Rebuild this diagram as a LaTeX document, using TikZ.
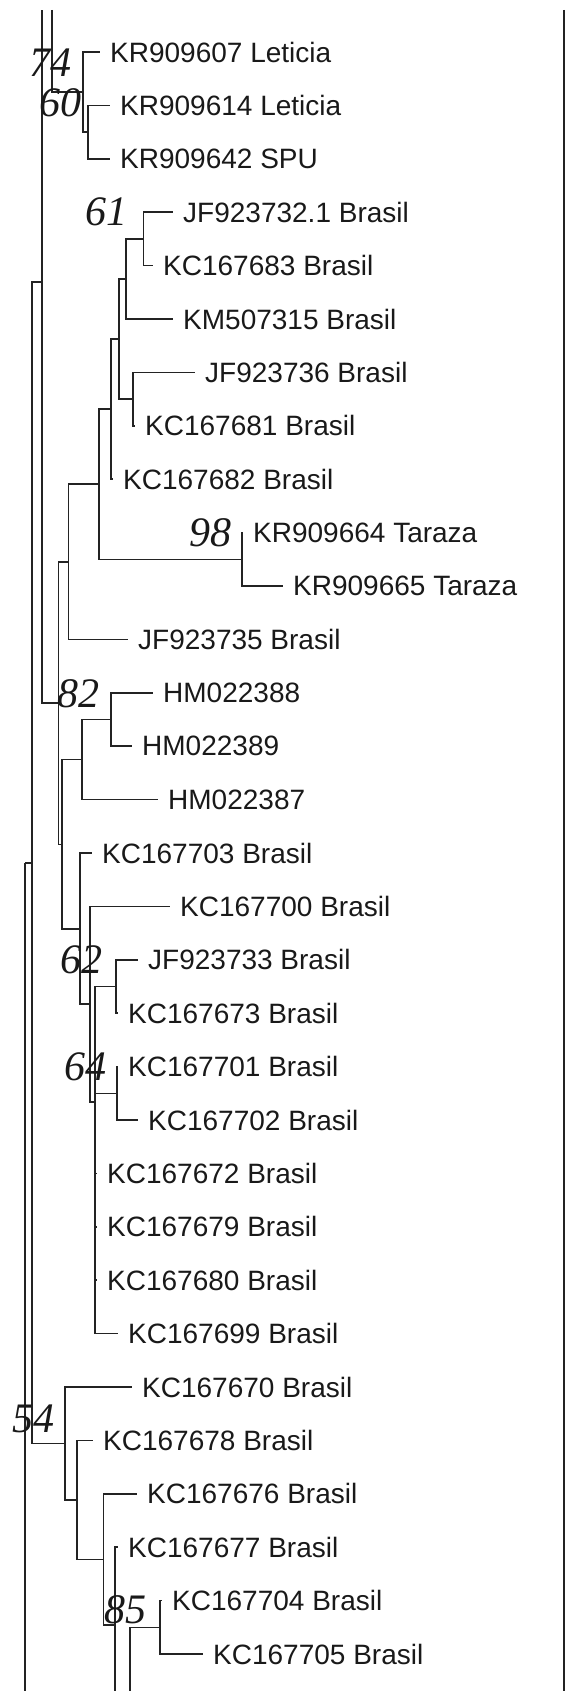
\documentclass[tikz,border=0pt]{standalone}
\usepackage{fontspec}
\setmainfont{Liberation Sans}
\newfontfamily\bootfont{Liberation Serif}
\usepackage{tikz}
\usetikzlibrary{positioning, calc}
\definecolor{cline}{RGB}{35,35,35}
\definecolor{ctext}{RGB}{25,25,25}

\begin{document}
\begin{tikzpicture}[
    x=1pt, y=-1pt,
    every node/.style={font=\fontsize{28}{30}\selectfont, text=ctext},
    branch/.style={draw=cline, line width=1.6pt},
    leaf/.style={anchor=west, inner xsep=10pt, inner ysep=0pt},
    boot/.style={anchor=base east, inner sep=0pt, font=\bootfont\itshape\fontsize{42}{42}\selectfont},
]
    \useasboundingbox (0,0) rectangle (572,1691);

    % Free ends cut by the frame
    \coordinate (topA) at (41.7, 10);
    \coordinate (topB) at (51.7, 10);
    \coordinate (bot25) at (25, 1691);
    \coordinate (botp) at (115, 1691);
    \coordinate (botq) at (130, 1691);
    \coordinate (rtop) at (564, 10);
    \coordinate (rbot) at (564, 1691);

    % Internal nodes
    \coordinate (n60) at (88, 132.1);
    \coordinate (n74) at (83, 92.05);
    \coordinate (n61) at (143.3, 238.9);
    \coordinate (nk) at (126, 279);
    \coordinate (nj) at (133, 399.1);
    \coordinate (ni) at (119, 339);
    \coordinate (n111) at (111, 409.1);
    \coordinate (n98) at (241.7, 559.3);
    \coordinate (n99) at (99, 484.2);
    \coordinate (nbr) at (68.3, 561.8);
    \coordinate (n82) at (110.7, 719.5);
    \coordinate (nhm) at (82, 759.6);
    \coordinate (n62) at (116, 986.5);
    \coordinate (n64) at (116.7, 1093.3);
    \coordinate (n95) at (95, 1101.7);
    \coordinate (n90) at (90, 1004);
    \coordinate (n80) at (80, 929);
    \coordinate (nlow) at (61.7, 844.3);
    \coordinate (nup) at (58.3, 703);
    \coordinate (nA) at (41.7, 282);
    \coordinate (n85) at (160, 1627.3);
    \coordinate (np) at (115, 1625);
    \coordinate (n103) at (103.3, 1559.4);
    \coordinate (n77) at (77, 1500);
    \coordinate (n54) at (65, 1443.5);
    \coordinate (n32) at (32, 862.7);
    \coordinate (n25) at (25, 862.7);

    % Leaves
    \node[leaf] (l1) at (100, 52) {KR909607 Leticia};
    \node[leaf] (l2) at (110, 105.4) {KR909614 Leticia};
    \node[leaf] (l3) at (110, 158.8) {KR909642 SPU};
    \node[leaf] (l4) at (173, 212.2) {JF923732.1 Brasil};
    \node[leaf] (l5) at (153, 265.6) {KC167683 Brasil};
    \node[leaf] (l6) at (173, 319) {KM507315 Brasil};
    \node[leaf] (l7) at (195, 372.4) {JF923736 Brasil};
    \node[leaf] (l8) at (135, 425.8) {KC167681 Brasil};
    \node[leaf] (l9) at (113, 479.2) {KC167682 Brasil};
    \node[leaf] (l10) at (243, 532.6) {KR909664 Taraza};
    \node[leaf] (l11) at (283, 586) {KR909665 Taraza};
    \node[leaf] (l12) at (128, 639.4) {JF923735 Brasil};
    \node[leaf] (l13) at (153, 692.8) {HM022388};
    \node[leaf] (l14) at (132, 746.2) {HM022389};
    \node[leaf] (l15) at (158, 799.6) {HM022387};
    \node[leaf] (l16) at (92, 853) {KC167703 Brasil};
    \node[leaf] (l17) at (170, 906.4) {KC167700 Brasil};
    \node[leaf] (l18) at (138, 959.8) {JF923733 Brasil};
    \node[leaf] (l19) at (118, 1013.2) {KC167673 Brasil};
    \node[leaf] (l20) at (118, 1066.6) {KC167701 Brasil};
    \node[leaf] (l21) at (138, 1120) {KC167702 Brasil};
    \node[leaf] (l22) at (97, 1173.4) {KC167672 Brasil};
    \node[leaf] (l23) at (97, 1226.8) {KC167679 Brasil};
    \node[leaf] (l24) at (97, 1280.2) {KC167680 Brasil};
    \node[leaf] (l25) at (118, 1333.6) {KC167699 Brasil};
    \node[leaf] (l26) at (132, 1387) {KC167670 Brasil};
    \node[leaf] (l27) at (93, 1440.4) {KC167678 Brasil};
    \node[leaf] (l28) at (137, 1493.8) {KC167676 Brasil};
    \node[leaf] (l29) at (118, 1547.2) {KC167677 Brasil};
    \node[leaf] (l30) at (162, 1600.6) {KC167704 Brasil};
    \node[leaf] (l31) at (203, 1654) {KC167705 Brasil};

    % Frame line on the right
    \draw[branch] (rtop) -- (rbot);

    % Backbone
    \draw[branch] (n25) -- (bot25);
    \draw[branch] (n25) -- (n32);
    \draw[branch] (n32) |- (nA);
    \draw[branch] (n32) |- (n54);
    \draw[branch] (nA) -- (topA);
    \draw[branch] (nA) |- (nup);
    \draw[branch] (topB) |- (n74);

    % Top clade
    \draw[branch] (n74) |- (l1.west);
    \draw[branch] (n74) |- (n60);
    \draw[branch] (n60) |- (l2.west);
    \draw[branch] (n60) |- (l3.west);

    % Brasil / Taraza clade
    \draw[branch] (nup) |- (nbr);
    \draw[branch] (nup) |- (nlow);
    \draw[branch] (nbr) |- (n99);
    \draw[branch] (nbr) |- (l12.west);
    \draw[branch] (n99) |- (n111);
    \draw[branch] (n99) |- (n98);
    \draw[branch] (n111) |- (ni);
    \draw[branch] (n111) |- (l9.west);
    \draw[branch] (ni) |- (nk);
    \draw[branch] (ni) |- (nj);
    \draw[branch] (nk) |- (n61);
    \draw[branch] (nk) |- (l6.west);
    \draw[branch] (n61) |- (l4.west);
    \draw[branch] (n61) |- (l5.west);
    \draw[branch] (nj) |- (l7.west);
    \draw[branch] (nj) |- (l8.west);
    \draw[branch] (n98) |- (l10.west);
    \draw[branch] (n98) |- (l11.west);

    % HM clade and KC1677xx group
    \draw[branch] (nlow) |- (nhm);
    \draw[branch] (nlow) |- (n80);
    \draw[branch] (nhm) |- (n82);
    \draw[branch] (nhm) |- (l15.west);
    \draw[branch] (n82) |- (l13.west);
    \draw[branch] (n82) |- (l14.west);
    \draw[branch] (n80) |- (l16.west);
    \draw[branch] (n80) |- (n90);
    \draw[branch] (n90) |- (l17.west);
    \draw[branch] (n90) |- (n95);
    \draw[branch] (n95) |- (n62);
    \draw[branch] (n95) |- (n64);
    \draw[branch] (n95) |- (l22.west);
    \draw[branch] (n95) |- (l23.west);
    \draw[branch] (n95) |- (l24.west);
    \draw[branch] (n95) |- (l25.west);
    \draw[branch] (n62) |- (l18.west);
    \draw[branch] (n62) |- (l19.west);
    \draw[branch] (n64) |- (l20.west);
    \draw[branch] (n64) |- (l21.west);

    % Bottom clade
    \draw[branch] (n54) |- (l26.west);
    \draw[branch] (n54) |- (n77);
    \draw[branch] (n77) |- (l27.west);
    \draw[branch] (n77) |- (n103);
    \draw[branch] (n103) |- (l28.west);
    \draw[branch] (n103) |- (np);
    \draw[branch] (np) |- (l29.west);
    \draw[branch] (np) -- (botp);
    \draw[branch] (botq) |- (n85);
    \draw[branch] (n85) |- (l30.west);
    \draw[branch] (n85) |- (l31.west);

    % Bootstrap values
    \node[boot] (b74) at (72, 77) {74};
    \node[boot] (b60) at (82, 117) {60};
    \node[boot] (b61) at (128, 225) {61};
    \node[boot] (b98) at (232, 546) {98};
    \node[boot] (b82) at (100, 707) {82};
    \node[boot] (b62) at (103, 973) {62};
    \node[boot] (b64) at (107, 1080) {64};
    \node[boot] (b54) at (55, 1432) {54};
    \node[boot] (b85) at (147, 1623) {85};
\end{tikzpicture}
\end{document}
